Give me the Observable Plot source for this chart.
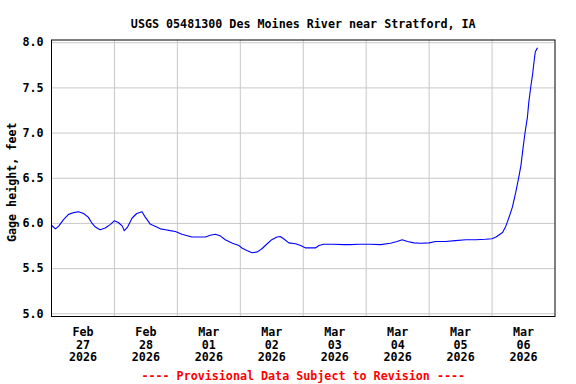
<!DOCTYPE html>
<html><head><meta charset="utf-8">
<script src="https://cdn.jsdelivr.net/npm/d3@7"></script>
<script src="https://cdn.jsdelivr.net/npm/@observablehq/plot@0.6"></script>
<style>body{margin:0;background:#fff}</style>
</head><body><div id="chart"></div>
<script>
const titleText = "USGS 05481300 Des Moines River near Stratford, IA";
const yLabel = "Gage height, feet";
const footerText = "---- Provisional Data Subject to Revision ----";

const times = [
  "2026-02-27T00:00","2026-02-27T01:30","2026-02-27T02:45","2026-02-27T04:30","2026-02-27T06:30",
  "2026-02-27T08:30","2026-02-27T10:15","2026-02-27T12:15","2026-02-27T14:00","2026-02-27T15:30",
  "2026-02-27T16:45","2026-02-27T18:30","2026-02-27T20:30","2026-02-27T22:30","2026-02-28T00:00",
  "2026-02-28T01:30","2026-02-28T03:00","2026-02-28T03:45","2026-02-28T05:00","2026-02-28T06:45",
  "2026-02-28T08:30","2026-02-28T10:30","2026-02-28T11:45","2026-02-28T13:45","2026-02-28T15:30",
  "2026-02-28T17:30","2026-02-28T19:30","2026-02-28T21:15","2026-02-28T23:15","2026-03-01T01:45",
  "2026-03-01T05:30","2026-03-01T10:45","2026-03-01T12:30","2026-03-01T14:30","2026-03-01T16:30",
  "2026-03-01T18:15","2026-03-01T21:00","2026-03-01T23:30","2026-03-02T00:45","2026-03-02T02:30",
  "2026-03-02T04:30","2026-03-02T06:30","2026-03-02T08:15","2026-03-02T10:15","2026-03-02T12:00",
  "2026-03-02T14:00","2026-03-02T15:15","2026-03-02T16:30","2026-03-02T18:30","2026-03-02T21:00",
  "2026-03-02T23:00","2026-03-03T00:45","2026-03-03T04:45","2026-03-03T06:00","2026-03-03T07:45",
  "2026-03-03T11:30","2026-03-03T15:30","2026-03-03T18:00","2026-03-03T21:15","2026-03-04T01:30",
  "2026-03-04T05:30","2026-03-04T09:15","2026-03-04T11:45","2026-03-04T13:45","2026-03-04T15:45",
  "2026-03-04T18:15","2026-03-04T20:45","2026-03-05T00:00","2026-03-05T02:30","2026-03-05T06:15",
  "2026-03-05T10:00","2026-03-05T14:00","2026-03-05T17:45","2026-03-05T21:30","2026-03-06T00:00",
  "2026-03-06T01:30","2026-03-06T02:30","2026-03-06T04:00","2026-03-06T05:15","2026-03-06T06:30",
  "2026-03-06T07:45","2026-03-06T09:00","2026-03-06T10:15","2026-03-06T11:00","2026-03-06T11:45",
  "2026-03-06T12:30","2026-03-06T13:30","2026-03-06T14:00","2026-03-06T14:45","2026-03-06T15:30",
  "2026-03-06T16:00","2026-03-06T16:30","2026-03-06T17:15"
];
const heights = [
  5.98,5.94,5.97,6.04,6.10,
  6.12,6.13,6.11,6.07,6.00,
  5.96,5.93,5.95,5.99,6.03,
  6.01,5.97,5.92,5.96,6.06,
  6.11,6.13,6.07,5.99,5.97,
  5.94,5.93,5.92,5.91,5.88,
  5.85,5.85,5.87,5.88,5.86,
  5.82,5.78,5.755,5.725,5.70,
  5.675,5.685,5.72,5.775,5.82,
  5.85,5.855,5.83,5.785,5.775,
  5.755,5.73,5.73,5.755,5.77,
  5.77,5.765,5.765,5.77,5.77,
  5.765,5.78,5.80,5.82,5.80,
  5.785,5.78,5.785,5.80,5.80,
  5.81,5.82,5.82,5.825,5.83,
  5.85,5.87,5.90,5.97,6.07,
  6.18,6.34,6.52,6.64,6.82,
  6.99,7.18,7.34,7.51,7.66,
  7.79,7.90,7.94
];

const yTicks = [5.0, 5.5, 6.0, 6.5, 7.0, 7.5, 8.0];
const dayStarts = ["2026-02-27","2026-02-28","2026-03-01","2026-03-02","2026-03-03","2026-03-04","2026-03-05","2026-03-06","2026-03-07"];
const dayNoons = ["2026-02-27T12:00","2026-02-28T12:00","2026-03-01T12:00","2026-03-02T12:00","2026-03-03T12:00","2026-03-04T12:00","2026-03-05T12:00","2026-03-06T12:00"];
const dayLabels = ["Feb\n27\n2026","Feb\n28\n2026","Mar\n01\n2026","Mar\n02\n2026","Mar\n03\n2026","Mar\n04\n2026","Mar\n05\n2026","Mar\n06\n2026"];

const parseT = s => new Date(s.length === 10 ? s + "T00:00Z" : s + "Z");
const data = times.map((t, i) => ({t: parseT(t), h: heights[i]}));
const grid = dayStarts.map(parseT);
const noons = dayNoons.map(parseT);
const labelOf = new Map(noons.map((d, i) => [+d, dayLabels[i]]));

const font = "'DejaVu Sans Mono', monospace";

const chart = Plot.plot({
  width: 576,
  height: 384,
  marginLeft: 51,
  marginRight: 21.5,
  marginTop: 39.5,
  marginBottom: 68,
  style: {fontFamily: font, fontWeight: "bold", fontSize: "11.7px", background: "#fff", color: "#000"},
  x: {type: "utc", domain: [grid[0], grid[grid.length - 1]]},
  y: {domain: [4.97, 8.03]},
  marks: [
    Plot.gridX(grid.slice(1, -1), {stroke: "#c8c8c8", strokeOpacity: 1, strokeWidth: 1}),
    Plot.gridY(yTicks, {stroke: "#c8c8c8", strokeOpacity: 1, strokeWidth: 1}),
    Plot.line(data, {x: "t", y: "h", stroke: "#0000ff", strokeWidth: 1.1}),
    Plot.frame({stroke: "#000", strokeWidth: 1}),
    Plot.axisY(yTicks, {tickSize: 0, tickPadding: 8, tickFormat: d3.format(".1f"), label: null, fill: "#000"}),
    Plot.axisX(noons, {tickSize: 0, tickPadding: 10, tickFormat: d => labelOf.get(+d), label: null, lineHeight: 1.1, fill: "#000"}),
    Plot.text([titleText], {frameAnchor: "top", dy: -20, fill: "#000"}),
    Plot.text([yLabel], {frameAnchor: "left", textAnchor: "middle", rotate: -90, dx: -39, dy: 4, fill: "#000"}),
    Plot.text([footerText], {frameAnchor: "bottom", dy: 63, fill: "#ff0000"})
  ]
});
document.getElementById("chart").append(chart);
</script>
</body></html>
